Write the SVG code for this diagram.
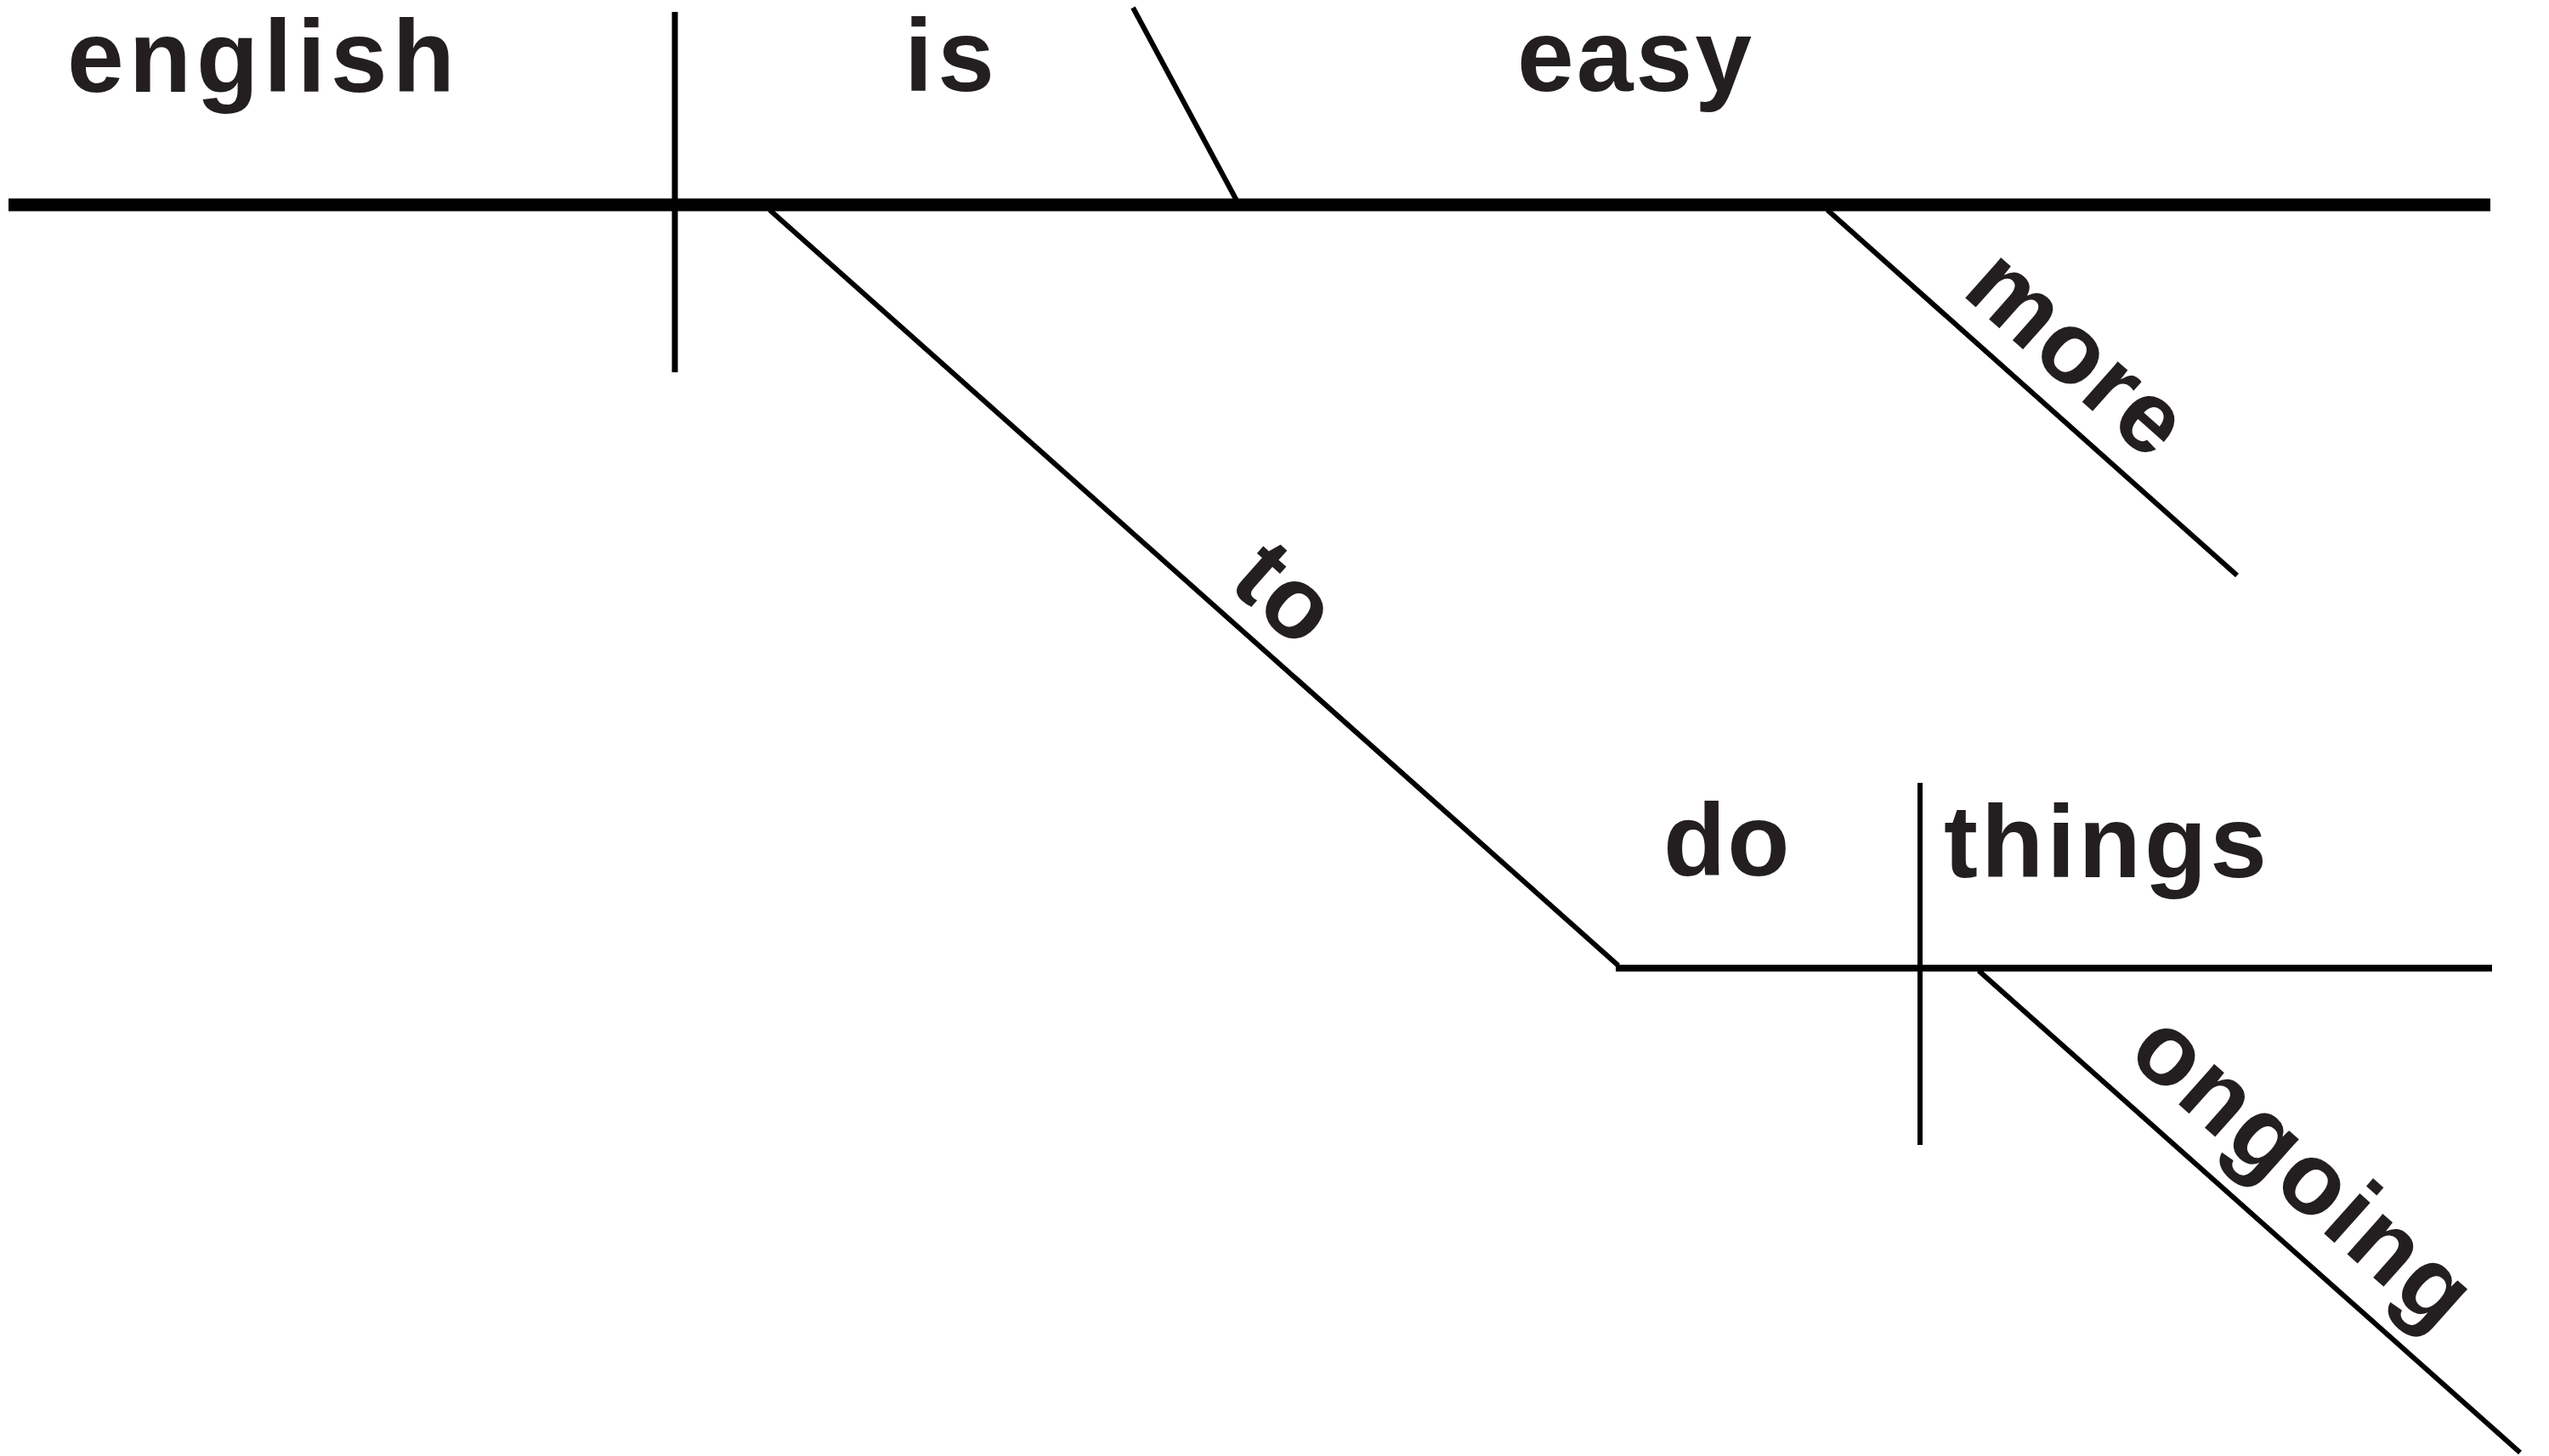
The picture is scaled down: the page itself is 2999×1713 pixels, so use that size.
<svg xmlns="http://www.w3.org/2000/svg" width="2999" height="1713" viewBox="0 0 2999 1713">
<style>
.w{font-family:"Liberation Sans",Arial,sans-serif;font-weight:bold;font-size:120px;fill:#231f20}
.ln{stroke:#000;fill:none}
</style>
<rect width="2999" height="1713" fill="#fff"/>
<g id="connectors">
<line class="ln" x1="10" y1="241" x2="2930" y2="241" stroke-width="15"/>
<line class="ln" x1="794" y1="14" x2="794" y2="438" stroke-width="7"/>
<line class="ln" x1="1333" y1="9" x2="1455" y2="236" stroke-width="6"/>
<line class="ln" x1="905.6" y1="247" x2="1904" y2="1136" stroke-width="6"/>
<line class="ln" x1="2150" y1="247" x2="2632" y2="677" stroke-width="6"/>
<line class="ln" x1="1901" y1="1139" x2="2932" y2="1139" stroke-width="8"/>
<line class="ln" x1="2259" y1="921" x2="2259" y2="1347" stroke-width="6"/>
<line class="ln" x1="2328" y1="1142" x2="2965" y2="1709" stroke-width="6"/>
</g>
<g id="english"><text class="w" x="79" y="108" letter-spacing="6">english</text></g>
<g id="is"><text class="w" x="1064" y="107" letter-spacing="6">is</text></g>
<g id="easy"><text class="w" x="1785" y="107" letter-spacing="3">easy</text></g>
<g id="to"><text class="w" transform="translate(1443,689) rotate(41.65)" letter-spacing="2">to</text></g>
<g id="more"><text class="w" transform="translate(2306,345) rotate(41.65)" letter-spacing="2">more</text></g>
<g id="do"><text class="w" x="1957" y="1030" letter-spacing="2">do</text></g>
<g id="things"><text class="w" x="2287" y="1032" letter-spacing="4">things</text></g>
<g id="ongoing"><text class="w" transform="translate(2500,1243) rotate(41.65)" letter-spacing="3">ongoing</text></g>
</svg>
